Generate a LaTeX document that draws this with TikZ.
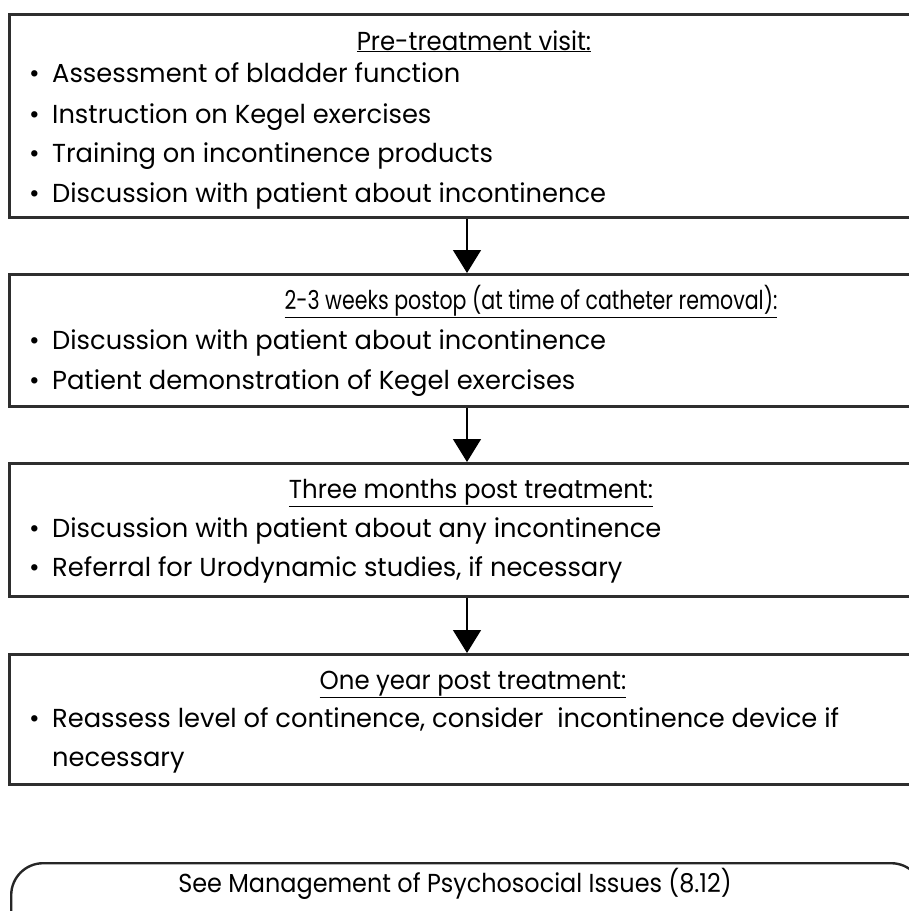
\documentclass[tikz,border=0pt]{standalone}
\usepackage{fontspec}
\setmainfont{Poppins}
\newfontfamily\itmfont{Poppins}[FakeStretch=0.99]
\newfontfamily\ttlfont{Poppins}[FakeStretch=0.94]
\newfontfamily\ttlnarrow{Poppins}[FakeStretch=0.79]
\newfontfamily\seefont{Poppins}[FakeStretch=0.92]
\usetikzlibrary{arrows.meta}
\newcommand{\bul}{\makebox[23pt][l]{•}}
\begin{document}
\begin{tikzpicture}[x=1pt,y=-1pt,
  box/.style={draw=black!82,line width=3pt,minimum width=904pt,inner sep=0pt,anchor=north west},
  rbox/.style={draw=black!85,line width=2.4pt,rounded corners=32pt,minimum width=912pt,minimum height=90pt,inner sep=0pt,anchor=north west},
  ttl/.style={inner sep=0pt,anchor=base,font=\ttlfont\fontsize{26}{31}\selectfont},
  itm/.style={inner sep=0pt,anchor=base west,font=\itmfont\fontsize{26}{31}\selectfont},
  flow/.style={line width=1.4pt,-{Triangle[width=28pt,length=23pt]}}]
\useasboundingbox (0,0) rectangle (909,911);
% boxes
\node[box,minimum height=203pt] (b1) at (8,13) {};
\node[box,minimum height=132pt] (b2) at (8,273) {};
\node[box,minimum height=133pt] (b3) at (8,462) {};
\node[box,minimum height=130pt] (b4) at (8,653) {};
\node[rbox] (r1) at (10,862) {};
\coordinate (ax) at (467,0);
% texts box 1
\node[ttl] (t1) at (474,50) {\underline{Pre-treatment visit:}};
\node[itm] (i11) at (29,82) {\bul Assessment of bladder function};
\node[itm] (i12) at (29,123) {\bul Instruction on Kegel exercises};
\node[itm] (i13) at (29,162) {\bul Training on incontinence products};
\node[itm] (i14) at (29,202) {\bul Discussion with patient about incontinence};
% box 2
\node[ttl,font=\ttlnarrow\fontsize{26}{31}\selectfont] (t2) at (531,309) {\underline{2-3 weeks postop (at time of catheter removal):}};
\node[itm] (i21) at (29,349) {\bul Discussion with patient about incontinence};
\node[itm] (i22) at (29,389) {\bul Patient demonstration of Kegel exercises};
% box 3
\node[ttl] (t3) at (471,498) {\underline{Three months post treatment:}};
\node[itm] (i31) at (29,537) {\bul Discussion with patient about any incontinence};
\node[itm] (i32) at (29,576) {\bul Referral for Urodynamic studies, if necessary};
% box 4
\node[ttl] (t4) at (473,689) {\underline{One year post treatment:}};
\node[itm] (i41) at (29,727) {\bul Reassess level of continence, consider\ \ incontinence device if};
\node[itm] (i42) at (52,766) {necessary};
% final
\node[ttl,font=\seefont\fontsize{26}{31}\selectfont] (t5) at (455,892) {See Management of Psychosocial Issues (8.12)};
% arrows
\draw[flow] (b1.south -| ax) -- (b2.north -| ax);
\draw[flow] (b2.south -| ax) -- (b3.north -| ax);
\draw[flow] (b3.south -| ax) -- (b4.north -| ax);
\end{tikzpicture}
\end{document}
